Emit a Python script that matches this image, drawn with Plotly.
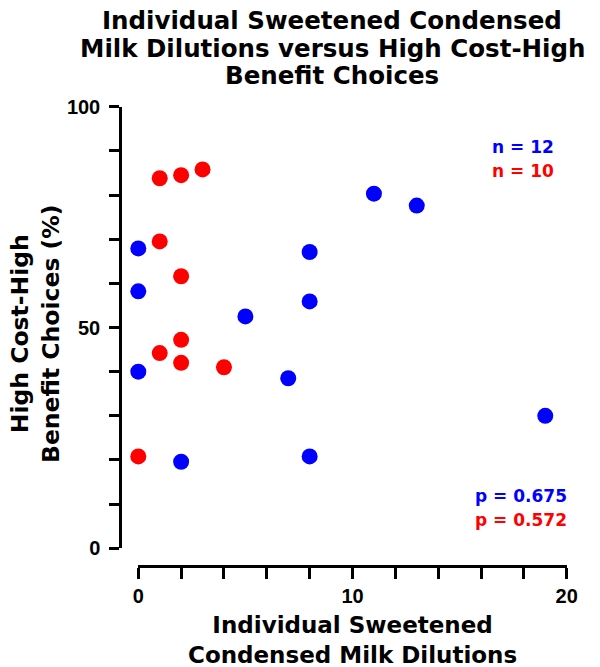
import plotly.graph_objects as go

# Blue group (n = 12)
blue_x = [0, 0, 0, 2, 5, 7, 8, 8, 8, 11, 13, 19]
blue_y = [67.9, 58.2, 40.0, 19.6, 52.5, 38.5, 67.1, 55.9, 20.8, 80.3, 77.6, 30.0]
# Red group (n = 10)
red_x = [1, 2, 3, 1, 2, 2, 1, 2, 4, 0]
red_y = [83.8, 84.5, 85.8, 69.5, 61.6, 47.2, 44.2, 42.0, 41.0, 20.8]

y_ticks = list(range(0, 101, 10))
y_ticktext = ["0" if v == 0 else ("50" if v == 50 else ("100" if v == 100 else "")) for v in y_ticks]
x_ticks = list(range(0, 21, 2))
x_ticktext = [str(v) if v in (0, 10, 20) else "" for v in x_ticks]

title_lines = ["Individual Sweetened Condensed", "Milk Dilutions versus High Cost-High", "Benefit Choices"]
xtitle_lines = ["Individual Sweetened", "Condensed Milk Dilutions"]
ytitle_lines = ["High Cost-High", "Benefit Choices (%)"]

W, H = 600, 667
FONT = "Arial, Liberation Sans, sans-serif"
WIDE = "DejaVu Sans, sans-serif"

fig = go.Figure()
fig.add_trace(go.Scatter(x=blue_x, y=blue_y, mode="markers", cliponaxis=False,
                         marker=dict(color="#0000ff", size=16, line=dict(width=0))))
fig.add_trace(go.Scatter(x=red_x, y=red_y, mode="markers", cliponaxis=False,
                         marker=dict(color="#ff0000", size=16, line=dict(width=0))))

fig.update_layout(
    width=W, height=H, showlegend=False,
    margin=dict(l=0, r=0, t=0, b=0),
    paper_bgcolor="white", plot_bgcolor="white",
    font=dict(family=FONT, color="black"),
    xaxis=dict(domain=[138.3 / W, 566.7 / W], range=[0, 20], anchor="free", position=1 - 566 / H,
               tickvals=x_ticks, ticktext=x_ticktext, ticks="outside", ticklen=11, tickwidth=2.5,
               tickcolor="black", showline=True, linecolor="black", linewidth=2.5,
               showgrid=False, zeroline=False, automargin=False,
               tickfont=dict(size=20, family=FONT, color="black", weight="bold")),
    yaxis=dict(domain=[1 - 548.3 / H, 1 - 106.7 / H], range=[0, 100], anchor="free", position=120 / W,
               tickvals=y_ticks, ticktext=y_ticktext, ticks="outside", ticklen=10, tickwidth=2.5,
               tickcolor="black", showline=True, linecolor="black", linewidth=2.5,
               showgrid=False, zeroline=False, automargin=False, ticklabelstandoff=5,
               tickfont=dict(size=20, family=FONT, color="black", weight="bold")),
)

def ann(text, x, y, size, color="black", xanchor="center", textangle=0, family=WIDE):
    fig.add_annotation(text=text, x=x / W, y=1 - y / H, xref="paper", yref="paper",
                       showarrow=False, xanchor=xanchor, yanchor="middle", textangle=textangle,
                       font=dict(family=family, size=size, color=color, weight="bold"))

for i, t in enumerate(title_lines):
    ann(t, 332, 21 + 27.3 * i, 24.5)
ann("<br>".join(xtitle_lines), 352, 640, 23)
ann("<br>".join(ytitle_lines), 35, 334, 23.5, textangle=-90)

ann("n = 12", 556, 147, 17, color="#0000ff", xanchor="right")
ann("n = 10", 556, 171, 17, color="#ff0000", xanchor="right")
ann("p = 0.675", 569, 496, 17, color="#0000ff", xanchor="right")
ann("p = 0.572", 569, 520, 17, color="#ff0000", xanchor="right")

fig.write_html("out.html")
